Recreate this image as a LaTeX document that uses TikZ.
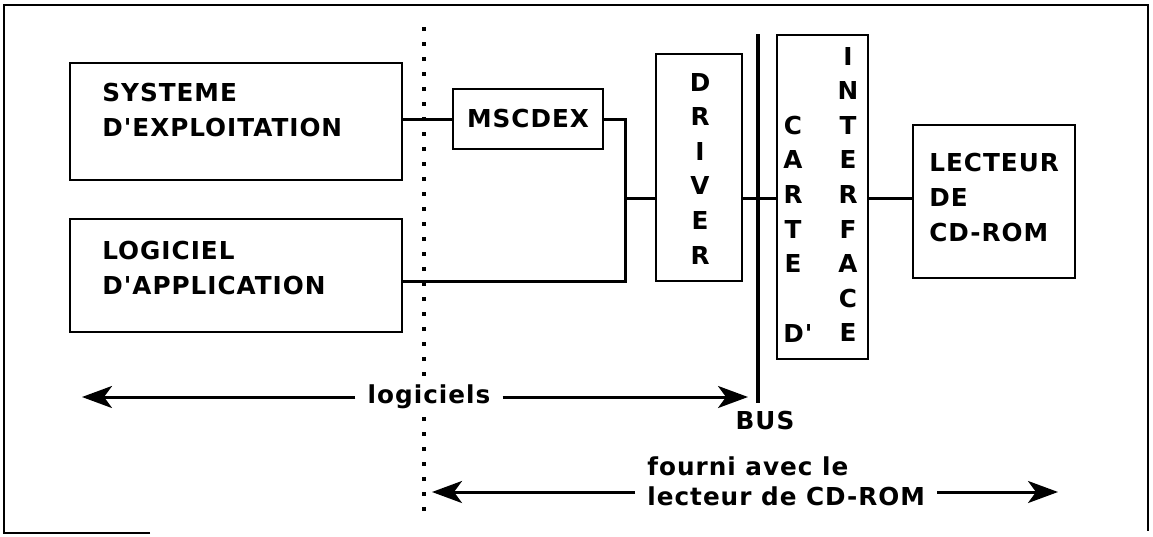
\documentclass[tikz,border=0pt]{standalone}
\usepackage{fontspec}
\usetikzlibrary{arrows.meta}
\newfontfamily\plotfont[LetterSpace=4]{DejaVu Sans}

\tikzset{every picture/.style={line width=0.75pt}}
\tikzset{
  box/.style={draw, line width=2pt, inner sep=0pt},
  lbl/.style={font=\plotfont\bfseries\fontsize{24.7}{35}\selectfont, inner sep=0pt, align=left},
  lbltwo/.style={lbl, font=\plotfont\bfseries\fontsize{24.7}{30}\selectfont},
  wire/.style={line width=3pt},
  busline/.style={line width=4pt},
  dotline/.style={line width=4pt, dash pattern=on 4pt off 11pt},
  arr/.style={line width=3pt, -{Stealth[length=30pt,width=22pt,inset=8pt]}},
}

\begin{document}
\begin{tikzpicture}[x=1pt,y=1pt,yscale=-1]
\useasboundingbox (0,0) rectangle (1153,536);

%Frame
\draw [line width=2pt] (150,533) -- (4,533) -- (4,5) -- (1148,5) -- (1148,531) ;

%Dotted separation
\draw [dotline] (424,27) -- (424,514) ;

%Shape: Rectangle (systeme)
\node [box, minimum width=332pt, minimum height=117pt] (sys) at (236,121.5) {};
% Text Node
\node [lbl, anchor=west] (sysT) at (102,110.5) {SYSTEME\\D'EXPLOITATION};

%Shape: Rectangle (logiciel)
\node [box, minimum width=332pt, minimum height=113pt] (app) at (236,275.5) {};
% Text Node
\node [lbl, anchor=west] (appT) at (102,268.5) {LOGICIEL\\D'APPLICATION};

%Shape: Rectangle (mscdex)
\node [box, lbl, minimum width=150pt, minimum height=60pt] (msc) at (528,119) {MSCDEX};

%Shape: Rectangle (driver)
\node [box, minimum width=86pt, minimum height=227pt] (drv) at (699,167.5) {};
\foreach \ch [count=\i] in {D,R,I,V,E,R}
  \node [lbl] (drvL\i) at (700,{82+34.6*(\i-1)}) {\ch};

%Shape: Rectangle (carte d'interface)
\node [box, minimum width=91pt, minimum height=324pt] (crd) at (822.5,197) {};
\foreach \ch [count=\i] in {I,N,T,E,R,F,A,C,E}
  \node [lbl] (itfL\i) at (848,{56+34.6*(\i-1)}) {\ch};
\foreach \ch/\r in {C/3,A/4,R/5,T/6,E/7}
  \node [lbl] (crtL\r) at (793,{56+34.6*(\r-1)}) {\ch};
\node [lbl, anchor=west] (crtD) at (783,333) {D'};

%Shape: Rectangle (lecteur)
\node [box, minimum width=162pt, minimum height=153pt] (lec) at (994,201.5) {};
% Text Node
\node [lbl, anchor=west] (lecT) at (929,197.5) {LECTEUR\\DE\\CD-ROM};

%Bus
\coordinate (busT) at (758,34);
\coordinate (busB) at (758,403);
\draw [busline] (busT) -- (busB) ;
\node [lbl] (busL) at (765,421) {BUS};

%Straight Lines
\coordinate (jn) at (625,198);
\coordinate (appout) at (402,281);
\draw [wire] (sys.east |- msc.west) -- (msc.west) ;
\draw [wire] (msc.east) -| (jn) |- (appout) ;
\draw [wire] (jn) -- (drv.west |- jn) ;
\draw [wire] (drv.east |- jn) -- (crd.west |- jn) ;
\draw [wire] (crd.east |- jn) -- (lec.west |- jn) ;

%Arrows: logiciels
\node [lbl, fill=white, inner xsep=12pt, inner ysep=4pt] (logi) at (429,397) {logiciels};
\coordinate (logL) at (82,397);
\coordinate (logR) at (748,397);
\draw [arr] (logi.west) -- (logL) ;
\draw [arr] (logi.east) -- (logR) ;

%Arrows: fourni avec le lecteur
\node [lbltwo, anchor=west, inner xsep=12pt] (four) at (635,481) {fourni avec le\\lecteur de CD-ROM};
\coordinate (fouL) at (432,492);
\coordinate (fouR) at (1058,492);
\draw [arr] (four.west |- fouL) -- (fouL) ;
\draw [arr] (four.east |- fouR) -- (fouR) ;

\end{tikzpicture}
\end{document}
